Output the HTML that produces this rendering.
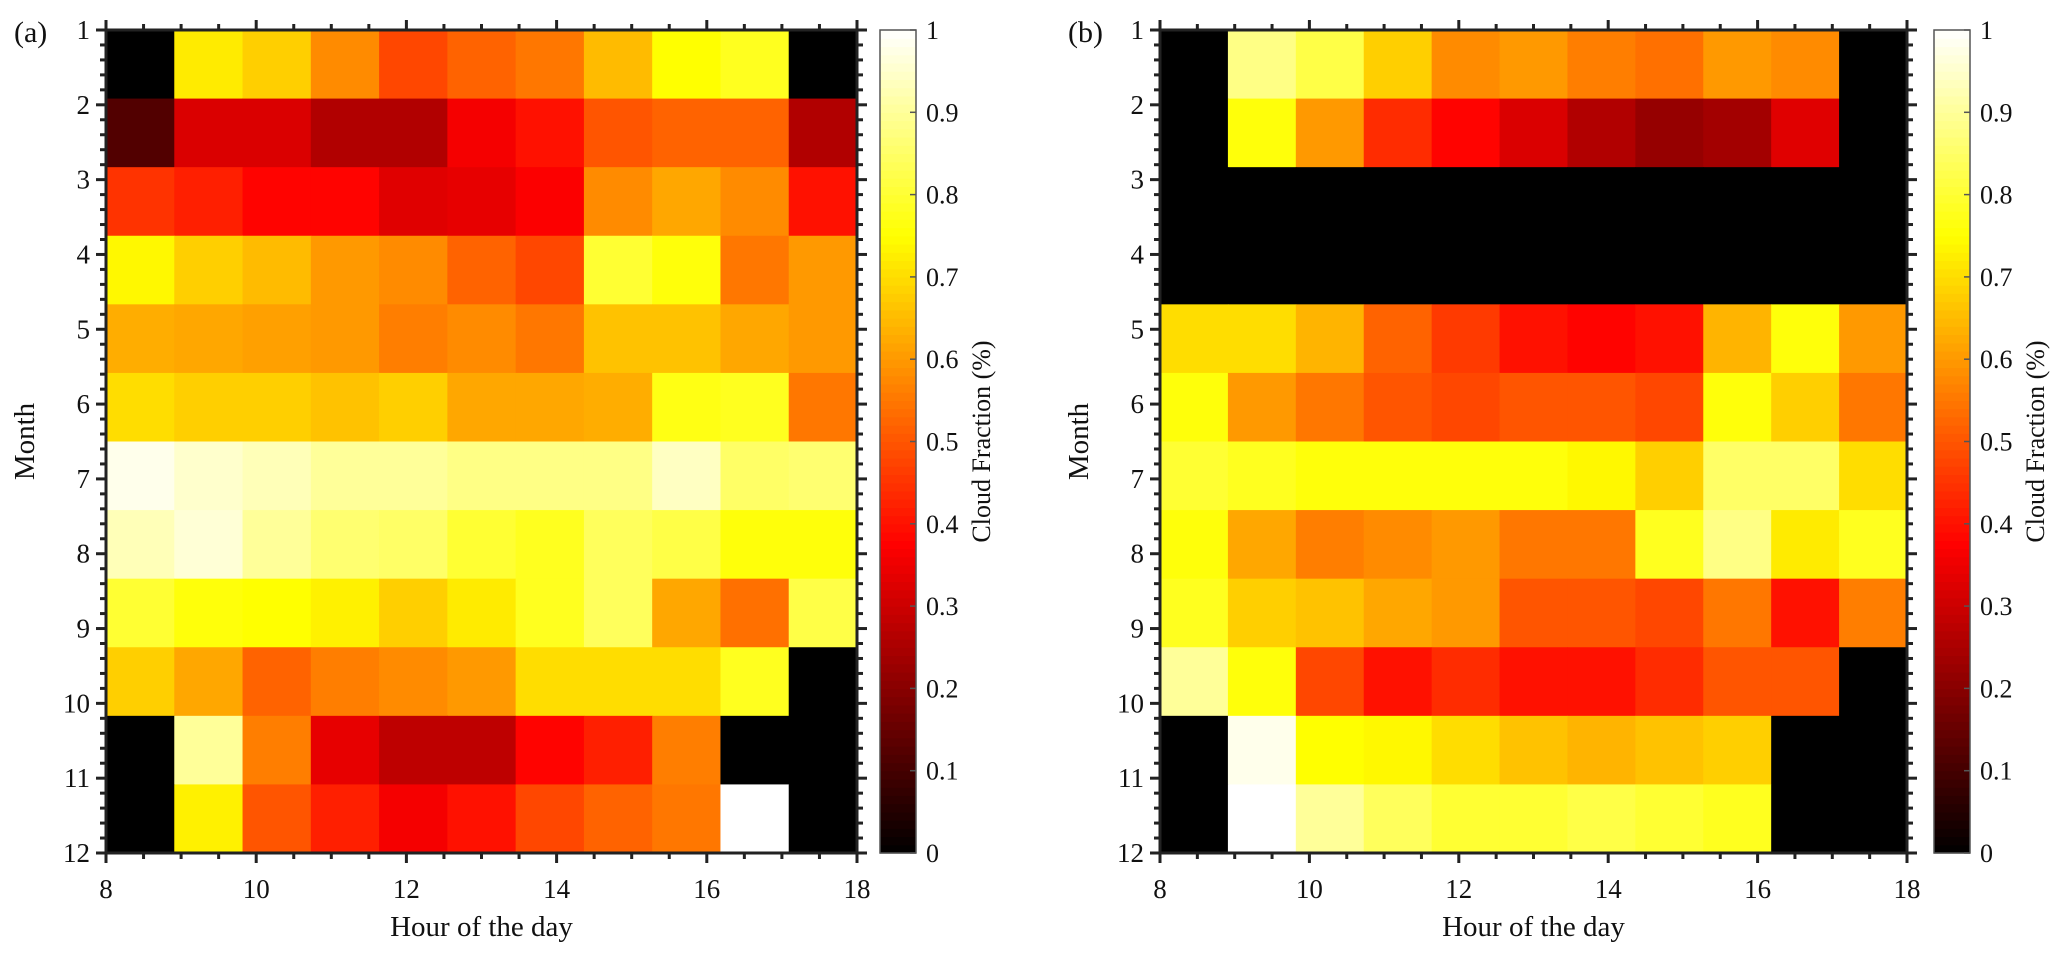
<!DOCTYPE html>
<html><head><meta charset="utf-8">
<style>
body{margin:0;background:#fff;}
svg{display:block;font-family:"Liberation Serif",serif;}
</style></head>
<body>
<svg id="fig" width="2067" height="962" viewBox="0 0 2067 962"></svg>
<script>
const hours=[8,9,10,11,12,13,14,15,16,17,18];
const months=[1,2,3,4,5,6,7,8,9,10,11,12];
const xTicks=[8,10,12,14,16,18];
const cbTicks=[0,0.1,0.2,0.3,0.4,0.5,0.6,0.7,0.8,0.9,1];
const dataA=[
[0,.72,.68,.58,.48,.52,.55,.65,.75,.78,0],
[.12,.32,.32,.26,.26,.36,.4,.5,.52,.52,.26],
[.45,.42,.38,.38,.33,.34,.37,.58,.62,.58,.4],
[.74,.68,.65,.6,.58,.52,.48,.8,.76,.55,.6],
[.63,.62,.61,.6,.56,.58,.55,.66,.66,.62,.6],
[.7,.68,.68,.66,.68,.62,.62,.63,.77,.78,.55],
[.98,.95,.93,.9,.9,.88,.88,.88,.94,.85,.86],
[.93,.96,.9,.86,.85,.8,.78,.84,.82,.76,.76],
[.8,.76,.75,.73,.68,.72,.78,.84,.62,.54,.82],
[.68,.62,.52,.56,.58,.6,.7,.7,.7,.78,0],
[0,.9,.56,.34,.28,.28,.38,.42,.56,0,0],
[0,.73,.5,.42,.36,.4,.48,.52,.55,1,0]];
const dataB=[
[0,.88,.82,.68,.58,.6,.56,.54,.6,.58,0],
[0,.76,.6,.44,.38,.32,.26,.22,.24,.33,0],
[0,0,0,0,0,0,0,0,0,0,0],
[0,0,0,0,0,0,0,0,0,0,0],
[.7,.7,.64,.52,.46,.4,.38,.4,.64,.76,.6],
[.76,.6,.55,.5,.48,.5,.5,.48,.76,.68,.55],
[.8,.78,.76,.76,.76,.76,.74,.68,.85,.85,.7],
[.76,.62,.56,.58,.6,.55,.55,.78,.88,.72,.78],
[.78,.68,.66,.62,.6,.5,.5,.48,.55,.4,.56],
[.9,.76,.48,.4,.44,.4,.4,.44,.5,.5,0],
[0,.98,.75,.74,.7,.66,.64,.66,.68,0,0],
[0,1,.9,.84,.8,.8,.82,.8,.78,0,0]];

const NS="http://www.w3.org/2000/svg";
const svg=document.getElementById('fig');
function mk(tag,attrs,parent){const e=document.createElementNS(NS,tag);for(const k in attrs)e.setAttribute(k,attrs[k]);(parent||svg).appendChild(e);return e;}
function hot(v){const c=x=>Math.max(0,Math.min(1,x));const r=c(v/0.375),g=c((v-0.375)/0.375),b=c((v-0.75)/0.25);return `rgb(${Math.round(r*255)},${Math.round(g*255)},${Math.round(b*255)})`;}
const TOP=30,BOT=853;
function panel(x0,x1,data,label,cbx){
  const g=mk('g',{});
  
  
  const nC=data[0].length,nR=data.length;
  const cw=(x1-x0)/nC,rh=(BOT-TOP)/nR;
  const xs=h=>x0+(h-8)/10*(x1-x0);
  const ys=m=>TOP+(m-1)/11*(BOT-TOP);
  data.forEach((row,i)=>row.forEach((v,j)=>{
    const r=mk('rect',{x:x0+j*cw,y:TOP+i*rh,width:cw+0.5,height:rh+0.5,fill:hot(v)},g);
    
    
  }));
  // minor ticks
  for(let h=8;h<=18.001;h+=0.5){const x=xs(h);const L=(Math.abs(h%2)<1e-6)?10:6;
    mk('line',{x1:x,x2:x,y1:BOT,y2:BOT+L,stroke:'#222','stroke-width':3},g);
    mk('line',{x1:x,x2:x,y1:TOP,y2:TOP-L,stroke:'#222','stroke-width':3},g);}
  for(let m=1;m<=12.001;m+=0.2){const y=ys(m);const L=(Math.abs(m-Math.round(m))<1e-6)?10:6;
    mk('line',{x1:x0,x2:x0-L,y1:y,y2:y,stroke:'#222','stroke-width':3},g);
    mk('line',{x1:x1,x2:x1+L,y1:y,y2:y,stroke:'#222','stroke-width':3},g);}
  mk('rect',{x:x0,y:TOP,width:x1-x0,height:BOT-TOP,fill:'none',stroke:'#222','stroke-width':3},g);
  xTicks.forEach(h=>{const t=mk('text',{x:xs(h),y:898,'font-size':27,'text-anchor':'middle',fill:'#111'},g);t.textContent=h;
    });
  months.forEach(m=>{const t=mk('text',{x:x0-16,y:ys(m)+9,'font-size':27,'text-anchor':'end',fill:'#111'},g);t.textContent=m;
    });
  const xl=mk('text',{x:(x0+x1)/2,y:936,'font-size':29,'text-anchor':'middle',fill:'#111'},g);xl.textContent='Hour of the day';
  
  const yl=mk('text',{x:0,y:0,'font-size':29,'text-anchor':'middle',fill:'#111',transform:`translate(${x0-72},${(TOP+BOT)/2}) rotate(-90)`},g);yl.textContent='Month';
  
  const pl=mk('text',{x:x0-92,y:42,'font-size':30,fill:'#111'},g);pl.textContent='('+label+')';
  
  // colorbar
  const cb=mk('g',{},g);
  
  const N=100,cwid=36;
  for(let k=0;k<N;k++){const v0=k/N;mk('rect',{x:cbx,y:BOT-(k+1)/N*(BOT-TOP),width:cwid,height:(BOT-TOP)/N+0.6,fill:hot(v0+0.5/N)},cb);}
  mk('rect',{x:cbx,y:TOP,width:cwid,height:BOT-TOP,fill:'none',stroke:'#555','stroke-width':1.5},cb);
  cbTicks.forEach(v=>{const y=BOT-v*(BOT-TOP);
    mk('line',{x1:cbx+cwid-6,x2:cbx+cwid,y1:y,y2:y,stroke:'#555','stroke-width':1.5},cb);
    const t=mk('text',{x:cbx+cwid+10,y:y+9,'font-size':26,fill:'#111'},cb);t.textContent=v;
    });
  const cl=mk('text',{x:0,y:0,'font-size':26,'text-anchor':'middle',fill:'#111',transform:`translate(${cbx+110},${(TOP+BOT)/2}) rotate(-90)`},cb);cl.textContent='Cloud Fraction (%)';
  
}
panel(106,857,dataA,'a',880);
panel(1160,1907,dataB,'b',1934);
</script>
</body></html>
